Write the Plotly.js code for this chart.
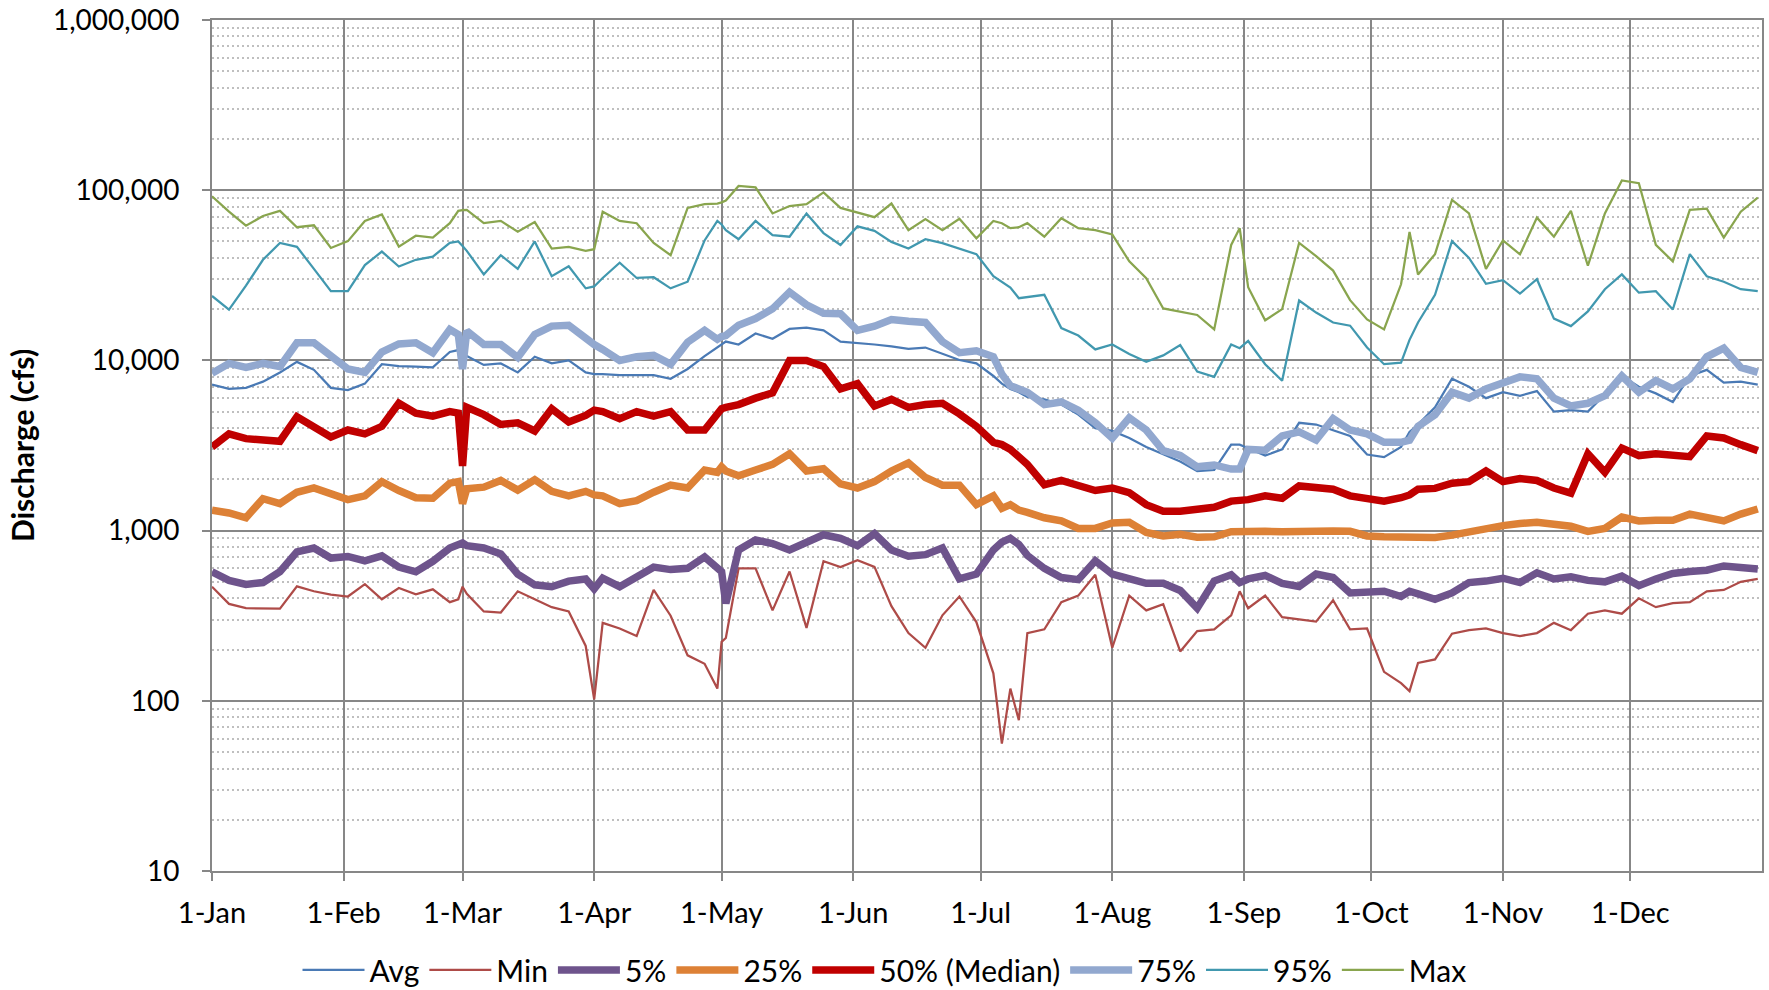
<!DOCTYPE html>
<html>
<head>
<meta charset="utf-8">
<script src="https://cdn.plot.ly/plotly-3.0.1.min.js"></script>
<style>
html,body{margin:0;padding:0;background:#fff;}
#chart{width:1769px;height:990px;}
</style>
</head>
<body>
<div id="chart"></div>
<script>
// Day of year (0 = 1-Jan) at which values were read
const days = [0,4,8,12,16,20,24,28,32,36,40,44,48,52,56,58,59,60,64,68,72,76,80,84,88,90,92,96,100,104,108,112,116,119,120,121,124,128,132,136,140,144,148,152,156,160,164,168,172,176,180,184,186,188,190,192,196,200,204,208,212,216,220,224,228,232,236,240,242,244,248,252,256,260,264,268,272,276,280,282,284,288,292,296,300,304,308,312,316,320,324,328,332,336,340,344,348,352,356,360,364];

const avgQ = [7200,6800,6900,7500,8500,9800,8800,6900,6700,7300,9500,9250,9200,9100,11200,11500,11000,10600,9400,9600,8500,10500,9600,10000,8500,8300,8300,8200,8200,8200,7800,8900,10600,11900,12400,12900,12400,14400,13400,15300,15600,15000,12900,12700,12400,12100,11700,11900,10900,10050,9600,8100,7300,6800,6500,6100,5900,5500,4800,4000,3850,3500,3100,2800,2550,2240,2270,3200,3200,3050,2760,3000,4300,4200,3900,3600,2800,2700,3100,3800,4200,5300,7800,7000,6000,6500,6200,6600,5000,5100,5000,6300,8100,7000,6400,5700,8100,8800,7400,7500,7200];

const minQ = [468,371,350,348,348,470,440,420,410,485,395,460,422,452,380,395,468,425,335,330,440,395,355,335,210,102,287,266,240,448,316,185,165,118,222,234,600,600,340,575,268,660,610,670,612,360,250,205,318,410,290,145,56,118,77,250,263,380,415,550,205,415,340,370,195,257,263,318,440,350,415,310,300,292,390,263,266,148,127,114,167,175,248,260,266,250,240,250,287,260,325,340,325,400,355,375,380,440,448,500,520];

const p5Q = [573,510,483,495,573,750,790,690,705,665,710,610,573,660,790,830,845,815,790,730,555,480,468,505,520,455,525,468,530,610,590,600,700,600,573,373,770,880,840,770,855,945,900,815,960,770,707,722,790,520,555,770,855,900,830,715,600,530,515,665,555,525,490,490,445,350,505,550,495,520,545,490,470,555,530,430,430,440,410,440,425,395,430,495,505,525,495,565,520,535,510,500,540,475,520,560,575,585,620,615,595];

const p25Q = [1320,1270,1190,1540,1440,1680,1780,1660,1520,1600,1940,1720,1560,1550,1900,1940,1440,1760,1800,1970,1730,1990,1700,1600,1700,1620,1600,1440,1500,1680,1850,1780,2270,2200,2370,2240,2100,2270,2450,2830,2240,2310,1880,1780,1940,2240,2500,2050,1850,1850,1420,1600,1350,1420,1320,1280,1190,1140,1030,1030,1110,1120,975,930,950,915,920,985,990,985,990,985,995,985,995,990,930,920,920,930,920,910,940,985,1030,1070,1100,1120,1090,1060,990,1030,1200,1140,1150,1150,1250,1180,1140,1250,1340];

const p50Q = [3100,3700,3470,3450,3350,4670,4100,3550,3900,3700,4100,5600,4900,4700,5000,4900,2400,5300,4800,4200,4300,3850,5200,4350,4750,5100,5000,4550,5000,4700,5000,3900,3900,5000,5200,5300,5500,6000,6450,10000,10000,9200,6800,7300,5400,5900,5300,5500,5600,4850,4100,3300,3200,3000,2750,2450,1860,1970,1840,1720,1780,1670,1420,1300,1300,1340,1370,1490,1500,1520,1600,1550,1830,1800,1750,1600,1540,1490,1560,1620,1750,1770,1900,1940,2240,1940,2020,1970,1780,1660,2830,2200,3050,2760,2830,2760,2720,3600,3500,3200,2950];

const p75Q = [8400,9600,9100,9600,9200,12700,12700,10500,8900,8500,11200,12500,12700,11100,15200,14200,8900,14900,12400,12400,10400,14200,15900,16100,13300,12400,11600,10000,10500,10700,9500,12800,15000,13300,13800,14000,16100,17600,20100,25200,21200,18900,18800,15000,15900,17400,17000,16700,12900,11100,11400,10500,8300,7100,6800,6500,5500,5700,5100,4300,3500,4600,3900,2950,2760,2370,2430,2300,2300,3000,2970,3600,3800,3400,4550,3900,3700,3300,3300,3400,4100,4800,6500,6000,6800,7300,8000,7800,6000,5400,5600,6200,8100,6500,7600,6800,7800,10500,11800,9100,8500];

const p95Q = [23900,19900,27500,39000,49000,46500,34500,25500,25500,36300,43600,35600,39000,40700,49000,50000,47000,44000,32000,41500,34500,50000,31200,35700,26500,27200,30500,37500,30500,30800,26500,29000,50700,66000,62900,58300,51500,66000,54500,53300,73000,56000,47700,61300,57700,49700,45400,51500,48900,45500,42100,31200,29000,26800,23200,23500,24300,15500,14000,11600,12400,10900,9800,10700,12300,8600,8000,12400,11800,13000,9500,7600,22500,19100,16700,16000,11900,9500,9700,13200,16700,24300,50200,40000,28200,29600,24700,30000,17600,15900,19400,26200,32000,25000,25500,19900,42100,31200,29000,26200,25500];

const maxQ = [92000,74800,61900,70500,75600,60600,62200,45800,50200,66000,72000,46600,54000,52700,64000,75600,76300,76700,64000,66000,57000,65000,45400,46500,44000,45000,74800,66000,64000,49000,41500,78700,82700,83500,84800,87000,106000,104000,73000,80700,82700,97000,78700,74000,69400,83500,58300,67700,58300,68000,52200,66000,64000,59800,60600,64000,53300,68400,59800,58300,55000,38200,30400,20200,19400,18500,15200,47700,59800,26900,17200,20000,49000,41000,33700,22600,17400,15200,28000,56800,32000,42100,87800,73000,34500,50700,42000,69000,53300,75600,36000,73000,114000,110000,47700,38200,76700,78000,52700,74800,90500];

const seriesNames = ['Avg','Min','5%','25%','50% (Median)','75%','95%','Max'];
const seriesColors = ['#4A7AB5','#AE4B48','#6E548C','#DD8136','#C00000','#92A8CF','#4198AF','#89A54E'];
const seriesWidths = [2.25,2.25,7.5,7.5,7.5,7.5,2.25,2.25];
const seriesValues = [avgQ,minQ,p5Q,p25Q,p50Q,p75Q,p95Q,maxQ];

const monthStarts = ['2001-01-01','2001-02-01','2001-03-01','2001-04-01','2001-05-01','2001-06-01','2001-07-01','2001-08-01','2001-09-01','2001-10-01','2001-11-01','2001-12-01'];
const monthLabels = ['1-Jan','1-Feb','1-Mar','1-Apr','1-May','1-Jun','1-Jul','1-Aug','1-Sep','1-Oct','1-Nov','1-Dec'];
const yTickVals = [10,100,1000,10000,100000,1000000];
const yTickText = ['10','100','1,000','10,000','100,000','1,000,000'];

function dayToDate(d){
  return new Date(Date.UTC(2001,0,1) + d*86400000).toISOString().slice(0,10);
}
const dates = days.map(dayToDate);

const minorVals = [];
for (let e = 1; e < 6; e++) {
  for (let m = 2; m <= 9; m++) minorVals.push(m*Math.pow(10,e));
}

const traces = seriesNames.map((n,i)=>({
  x: dates,
  y: seriesValues[i],
  name: n,
  type: 'scatter',
  mode: 'lines',
  line: {color: seriesColors[i], width: seriesWidths[i]},
  hoverinfo: 'x+y+name'
}));

const FONT = 'Lato, "Open Sans", sans-serif';
const GRID = '#878787';

const layout = {
  width: 1769,
  height: 990,
  paper_bgcolor: '#ffffff',
  plot_bgcolor: '#ffffff',
  margin: {l: 212, r: 7, t: 20, b: 119, autoexpand: false},
  font: {family: FONT, size: 28, color: '#000'},
  showlegend: true,
  legend: {
    orientation: 'h',
    xref: 'container', yref: 'paper',
    x: 0.5, xanchor: 'center',
    y: -0.1163, yanchor: 'middle',
    itemwidth: 62,
    font: {family: FONT, size: 30, color: '#000'},
    bgcolor: 'rgba(0,0,0,0)'
  },
  xaxis: {
    type: 'date',
    range: ['2001-01-01','2002-01-01'],
    tickmode: 'array',
    tickvals: monthStarts,
    ticktext: monthLabels,
    ticks: 'outside',
    ticklen: 8,
    tickwidth: 2,
    tickcolor: GRID,
    ticklabelstandoff: 7,
    showgrid: true,
    gridcolor: GRID,
    gridwidth: 2,
    showline: true,
    linecolor: GRID,
    linewidth: 2,
    mirror: true,
    zeroline: false,
    tickfont: {family: FONT, size: 29, color: '#000'}
  },
  yaxis: {
    type: 'log',
    range: [1, 6],
    tickmode: 'array',
    tickvals: yTickVals,
    ticktext: yTickText,
    ticks: 'outside',
    ticklen: 8,
    tickwidth: 2,
    tickcolor: GRID,
    ticklabelstandoff: 17,
    showgrid: true,
    gridcolor: GRID,
    gridwidth: 2,
    showline: true,
    linecolor: GRID,
    linewidth: 2,
    mirror: true,
    zeroline: false,
    tickfont: {family: FONT, size: 28, color: '#000'},
    title: {text: '<b>Discharge (cfs)</b>', font: {family: FONT, size: 30, color: '#000'}, standoff: 9},
    minor: {
      tickmode: 'array',
      tickvals: minorVals,
      showgrid: true,
      gridcolor: '#BFBFBF',
      gridwidth: 1.5,
      griddash: '2px,3px',
      ticks: ''
    }
  }
};

Plotly.newPlot('chart', traces, layout, {displayModeBar: false, responsive: false});
</script>
</body>
</html>
